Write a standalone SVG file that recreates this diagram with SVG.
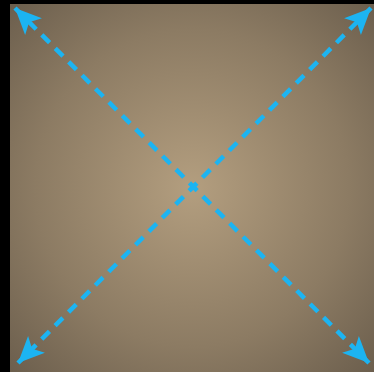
<svg xmlns="http://www.w3.org/2000/svg" width="374" height="372" viewBox="0 0 374 372">
<defs>
<radialGradient id="bg" cx="0.5" cy="0.5" r="0.72">
<stop offset="0" stop-color="#b39e7f"/>
<stop offset="0.6" stop-color="#8c7b63"/>
<stop offset="1" stop-color="#6a5d4c"/>
</radialGradient>
<marker id="ah" markerUnits="userSpaceOnUse" markerWidth="30" markerHeight="30" viewBox="-22 -11 24 22" refX="0" refY="0" orient="auto-start-reverse">
<path d="M0,0 L-21,-9.5 L-16,0 L-21,9.5 Z" fill="#1cb4f2"/>
</marker>
<style>
.conn{stroke:#1cb4f2;stroke-width:4.5;stroke-dasharray:11 8;fill:none;marker-start:url(#ah);marker-end:url(#ah)}
</style>
</defs>
<rect width="374" height="372" fill="#000"/>
<rect x="10" y="4" width="364" height="368" fill="url(#bg)"/>
<g id="connectors">
<line class="conn" x1="15" y1="8" x2="369" y2="363"/>
<line class="conn" x1="371" y1="8" x2="18" y2="363"/>
</g>
</svg>
